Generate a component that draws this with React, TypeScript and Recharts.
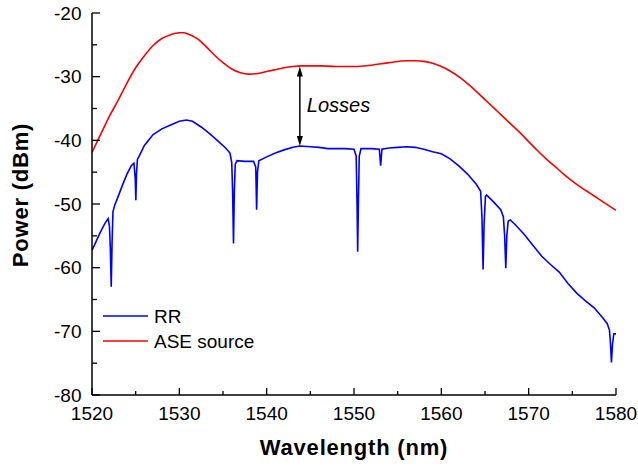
import { LineChart, Line, XAxis, YAxis, ReferenceLine, Label } from "recharts";

// RR (ring resonator) transmission
const rrWavelength = [
  1520.0, 1520.5, 1521.0, 1521.5, 1521.85, 1522.0, 1522.1, 1522.2, 1522.3, 1522.4,
  1522.6, 1523.0, 1523.5, 1524.0, 1524.5, 1524.8, 1524.95, 1525.02, 1525.1, 1525.2,
  1525.5, 1526.0, 1527.0, 1528.0, 1529.0, 1530.0, 1530.8, 1531.5, 1532.5, 1533.5,
  1534.5, 1535.3, 1535.8, 1536.0, 1536.1, 1536.2, 1536.3, 1536.4, 1536.6, 1537.5,
  1538.5, 1538.75, 1538.85, 1538.95, 1539.1, 1540.0, 1541.0, 1542.0, 1543.0, 1543.8,
  1545.0, 1546.0, 1547.0, 1548.0, 1549.0, 1550.0, 1550.25, 1550.35, 1550.42, 1550.5,
  1550.6, 1550.8, 1552.0, 1552.9, 1553.05, 1553.2, 1554.0, 1555.0, 1556.0, 1557.0,
  1558.0, 1559.0, 1560.0, 1561.0, 1562.0, 1563.0, 1564.0, 1564.5, 1564.65, 1564.78,
  1564.9, 1565.05, 1565.2, 1566.0, 1566.8, 1567.1, 1567.25, 1567.38, 1567.5, 1567.65,
  1567.9, 1568.5, 1569.5, 1570.5, 1571.5, 1572.5, 1573.5, 1574.5, 1575.5, 1576.5,
  1577.5, 1578.5, 1579.0, 1579.25, 1579.35, 1579.48, 1579.6, 1579.75, 1580.0,
];
const rrPower = [
  -57.3, -55.8, -54.3, -53.0, -52.3, -53.5, -57.0, -63.0, -56.0, -51.2,
  -50.2, -48.8, -47.0, -45.3, -44.0, -43.6, -46.0, -49.4, -45.0, -43.0,
  -42.2, -40.8, -39.1, -38.2, -37.6, -37.0, -36.8, -37.0, -37.9, -39.0,
  -40.2, -41.2, -42.0, -43.5, -48.0, -56.2, -48.0, -43.8, -43.2, -43.3,
  -43.3, -44.2, -50.9, -45.0, -43.2, -42.6, -42.0, -41.5, -41.1, -40.9,
  -41.0, -41.1, -41.3, -41.3, -41.3, -41.4, -42.5, -50.0, -57.5, -50.0,
  -42.5, -41.3, -41.3, -41.4, -44.0, -41.4, -41.2, -41.1, -41.0, -41.1,
  -41.4, -41.8, -42.1, -42.9, -44.0, -45.3, -46.9, -48.0, -52.0, -60.3,
  -53.0, -48.8, -48.6, -49.7, -50.9, -52.0, -55.0, -60.1, -55.0, -52.7,
  -52.5, -53.3, -54.8, -56.5, -58.2, -59.5, -60.7, -62.5, -64.0, -65.2,
  -66.3, -67.9, -68.8, -69.8, -71.5, -74.9, -72.0, -70.4, -70.4,
];

// ASE source spectrum
const aseWavelength = [
  1520, 1520.7, 1521.5, 1522, 1523, 1524, 1525, 1526, 1527, 1528,
  1529, 1530, 1530.5, 1531, 1532, 1533, 1534, 1535, 1536, 1537,
  1538, 1539, 1540, 1541, 1542, 1543, 1544, 1546, 1548, 1550,
  1552, 1554, 1556, 1557, 1558, 1559, 1560, 1561, 1562, 1563,
  1564, 1565, 1566, 1567, 1568, 1569, 1570, 1571, 1572, 1573,
  1574, 1575, 1576, 1577, 1578, 1579, 1580,
];
const asePower = [
  -41.9, -39.9, -37.6, -36.2, -33.7, -31.0, -28.6, -26.7, -25.1, -24.0,
  -23.4, -23.1, -23.1, -23.3, -24.0, -25.2, -26.6, -27.8, -28.8, -29.4,
  -29.6, -29.5, -29.2, -28.9, -28.6, -28.4, -28.3, -28.3, -28.4, -28.4,
  -28.2, -27.8, -27.5, -27.5, -27.6, -27.9, -28.4, -29.1, -30.0, -31.1,
  -32.3, -33.6, -34.9, -36.2, -37.5, -38.8, -40.2, -41.6, -42.9, -44.1,
  -45.3, -46.4, -47.4, -48.3, -49.2, -50.1, -51.0,
];

const xTicks = [1520, 1525, 1530, 1535, 1540, 1545, 1550, 1555, 1560, 1565, 1570, 1575, 1580];
const yTicks = [-80, -75, -70, -65, -60, -55, -50, -45, -40, -35, -30, -25, -20];

const seriesNames = ["RR", "ASE source"];
const seriesColors = ["#0000ff", "#ff0000"];

// losses annotation
const lossAt = 1543.8;
const lossTop = -28.4;
const lossBottom = -40.9;
const lossLabel = "Losses";

const rrData = rrWavelength.map((wl, i) => ({ wl, p: rrPower[i] }));
const aseData = aseWavelength.map((wl, i) => ({ wl, p: asePower[i] }));

const FONT = "Arial, 'Liberation Sans', sans-serif";

function XTick({ x, y, payload }: any) {
  const major = payload.value % 10 === 0;
  return (
    <g>
      <line x1={x} x2={x} y1={y} y2={y - (major ? 7 : 4)} stroke="#000" strokeWidth={1.3} />
      {major && (
        <text x={x} y={y + 25} textAnchor="middle" fontSize={19} fontFamily={FONT} fill="#000">
          {payload.value}
        </text>
      )}
    </g>
  );
}

function YTick({ x, y, payload }: any) {
  const major = payload.value % 10 === 0;
  return (
    <g>
      <line x1={x} x2={x + (major ? 8 : 5)} y1={y} y2={y} stroke="#000" strokeWidth={1.3} />
      {major && (
        <text x={x - 10.5} y={y} dy="0.35em" textAnchor="end" fontSize={19} fontFamily={FONT} fill="#000">
          {payload.value}
        </text>
      )}
    </g>
  );
}

function XTitle({ viewBox }: any) {
  return (
    <text x={viewBox.x + viewBox.width / 2} y={viewBox.y + 60} textAnchor="middle"
      fontSize={22} fontWeight="bold" letterSpacing={0.8} fontFamily={FONT} fill="#000">
      Wavelength (nm)
    </text>
  );
}

function YTitle({ viewBox }: any) {
  const cx = 28;
  const cy = viewBox.y + viewBox.height / 2 - 9;
  return (
    <text x={cx} y={cy} textAnchor="middle" transform={`rotate(-90, ${cx}, ${cy})`}
      fontSize={22} fontWeight="bold" letterSpacing={0.8} fontFamily={FONT} fill="#000">
      Power (dBm)
    </text>
  );
}

function LossArrow(props: any) {
  const { x1, y1, y2 } = props;
  const top = Math.min(y1, y2);
  const bot = Math.max(y1, y2);
  const head = 10;
  const hw = 3;
  const mid = (top + bot) / 2;
  return (
    <g>
      <line x1={x1} x2={x1} y1={top + head - 1} y2={bot - head + 1} stroke="#000" strokeWidth={1.5} />
      <polygon points={`${x1},${top} ${x1 - hw},${top + head} ${x1 + hw},${top + head}`} fill="#000" />
      <polygon points={`${x1},${bot} ${x1 - hw},${bot - head} ${x1 + hw},${bot - head}`} fill="#000" />
      <text x={x1 + 7} y={mid + 6} fontSize={20} fontStyle="italic" fontFamily={FONT} fill="#000">
        {lossLabel}
      </text>
    </g>
  );
}

export default function App() {
  return (
    <div style={{ position: "absolute", left: 0, top: 0, width: 638, height: 468, background: "#fff" }}>
      <LineChart width={638} height={468} margin={{ top: 13, right: 22, bottom: 0, left: 0 }}>
        <XAxis
          dataKey="wl" type="number" domain={[1520, 1580]} ticks={xTicks} allowDataOverflow
          height={73} tickSize={0} tickMargin={0} tickLine={false}
          axisLine={{ stroke: "#000", strokeWidth: 1.5 }} tick={<XTick />}
        >
          <Label content={<XTitle />} />
        </XAxis>
        <YAxis
          type="number" domain={[-80, -20]} ticks={yTicks} allowDataOverflow
          width={92} tickSize={0} tickMargin={0} tickLine={false}
          axisLine={{ stroke: "#000", strokeWidth: 1.5 }} tick={<YTick />}
        >
          <Label content={<YTitle />} />
        </YAxis>
        <XAxis xAxisId="top" orientation="top" type="number" domain={[1520, 1580]} height={0}
          tick={false} tickLine={false} axisLine={{ stroke: "#000", strokeWidth: 1.5 }} />
        <YAxis yAxisId="right" orientation="right" type="number" domain={[-80, -20]} width={0}
          tick={false} tickLine={false} axisLine={{ stroke: "#000", strokeWidth: 1.5 }} />
        <Line data={aseData} dataKey="p" name={seriesNames[1]} type="monotone" stroke={seriesColors[1]}
          strokeWidth={1.6} dot={false} isAnimationActive={false} />
        <Line data={rrData} dataKey="p" name={seriesNames[0]} type="linear" stroke={seriesColors[0]}
          strokeWidth={1.6} dot={false} isAnimationActive={false} />
        <ReferenceLine
          segment={[{ x: lossAt, y: lossTop }, { x: lossAt, y: lossBottom }]}
          shape={<LossArrow />} ifOverflow="visible"
        />
      </LineChart>
      <svg width={200} height={60} style={{ position: "absolute", left: 100, top: 302 }}>
        {seriesNames.map((n, i) => (
          <g key={n}>
            <line x1={3} x2={48} y1={14 + i * 25} y2={14 + i * 25} stroke={seriesColors[i]} strokeWidth={1.6} />
            <text x={54} y={21 + i * 25} fontSize={19} fontFamily={FONT} fill="#000">{n}</text>
          </g>
        ))}
      </svg>
    </div>
  );
}
